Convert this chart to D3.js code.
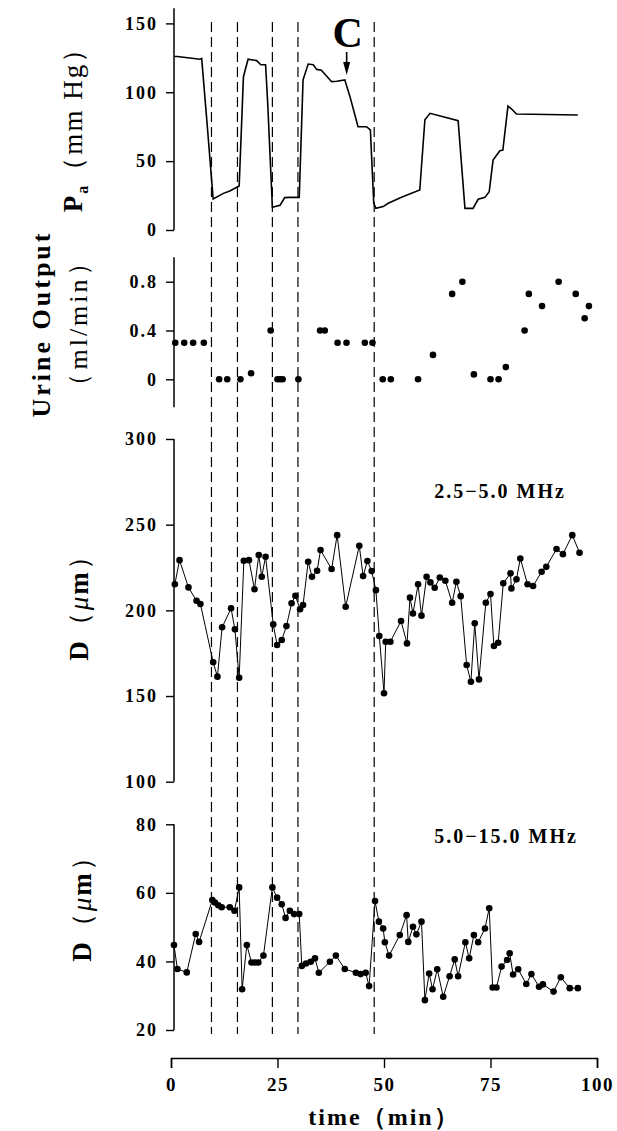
<!DOCTYPE html>
<html><head><meta charset="utf-8">
<script src="https://cdn.jsdelivr.net/npm/d3@7"></script>
<style>
html,body{margin:0;padding:0;background:#fff;}
text{font-family:"Liberation Serif","Times New Roman",serif;font-weight:bold;fill:#000;}
</style></head>
<body><svg id="chart" width="617" height="1131"></svg>
<script>
// ---- data ----
const pTime  = [0.8, 1.5, 6.8, 7.2, 8.4, 9.9, 12.3, 13.8, 16.0, 17.0, 17.4, 18.1, 20.1, 21.1, 22.2, 22.7, 23.8, 25.6, 26.7, 27.9, 30.1, 31.0, 32.2, 33.4, 34.2, 35.3, 37.7, 38.9, 40.8, 42.0, 43.9, 45.9, 46.8, 47.6, 48.1, 49.8, 51.0, 54.1, 58.4, 59.6, 60.8, 67.4, 69.0, 70.9, 72.1, 73.7, 74.7, 75.6, 77.2, 77.9, 79.1, 79.9, 81.1, 95.5];
const pValue = [126, 126, 124, 124.6, 80, 22.5, 26.6, 28.3, 32, 111, 116, 124, 123, 120, 120, 92, 16.5, 18, 23.5, 23.7, 23.7, 109, 120.5, 120, 116.6, 116, 107.7, 108, 109, 97, 75, 75, 72.6, 19.4, 15.7, 17, 19.4, 23.7, 29, 80, 84.7, 79.4, 15.7, 15.7, 22.3, 23.7, 27.8, 50.8, 57.6, 58, 90, 88, 84.2, 83.5];

const uTime  = [1.0, 3.1, 5.2, 7.7, 11.3, 13.2, 16.3, 18.8, 23.4, 25.0, 25.6, 26.2, 29.9, 35.0, 36.1, 39.1, 41.2, 45.5, 47.3, 49.7, 51.6, 58.0, 61.5, 66.0, 68.4, 71.1, 75.0, 76.9, 78.6, 83.0, 84.0, 87.1, 91.0, 95.0, 97.1, 98.1];
const uValue = [0.3, 0.3, 0.3, 0.3, 0, 0, 0, 0.05, 0.4, 0, 0, 0, 0, 0.4, 0.4, 0.3, 0.3, 0.3, 0.3, 0, 0, 0, 0.2, 0.7, 0.8, 0.04, 0, 0, 0.1, 0.4, 0.7, 0.6, 0.8, 0.7, 0.5, 0.6];

const d1Time  = [0.9, 2.0, 4.1, 6.0, 6.9, 9.9, 10.9, 12.0, 14.1, 15.0, 16.0, 17.1, 18.3, 19.6, 20.6, 21.3, 22.2, 24.0, 24.9, 26.0, 27.1, 28.3, 29.2, 30.3, 31.0, 32.2, 33.1, 34.3, 35.1, 37.7, 39.0, 41.0, 44.2, 45.1, 46.1, 47.1, 48.1, 48.9, 50.0, 50.4, 51.5, 54.0, 55.4, 56.1, 56.8, 58.0, 58.8, 60.0, 60.9, 61.9, 63.1, 64.4, 66.0, 67.0, 68.0, 69.4, 70.4, 71.3, 72.3, 73.9, 75.0, 75.8, 76.8, 78.0, 79.7, 79.9, 81.1, 82.0, 83.7, 85.0, 87.0, 88.1, 90.5, 92.0, 94.2, 95.9];
const d1Value = [215.2, 229.3, 213.4, 205.6, 203.7, 169.7, 161.3, 190.1, 201.2, 188.9, 160.7, 228.9, 229.3, 212.3, 232.3, 219.6, 231.3, 191.8, 179.8, 182.7, 190.8, 204.1, 208.5, 200.6, 203.1, 228.4, 219.6, 223.1, 235.2, 224.1, 243.9, 202.1, 237.7, 220, 228.8, 222.9, 211.8, 185, 151.6, 181.7, 181.7, 193.8, 180.7, 207.4, 198.2, 215.2, 196.9, 219.6, 216.3, 213.2, 219.2, 217.3, 204.4, 216.7, 208.3, 168.1, 158.3, 192.4, 159.7, 204.4, 209.5, 179.2, 181.1, 215.8, 221.6, 212.8, 218.1, 230.3, 215.2, 214.2, 222.5, 225.4, 235.8, 232.8, 243.9, 233.6];

const d2Time  = [0.7, 1.5, 3.7, 5.8, 6.6, 9.7, 10.3, 11.1, 11.9, 13.8, 14.9, 16.0, 16.7, 17.8, 18.9, 19.7, 20.5, 21.7, 23.8, 24.9, 26.0, 26.9, 27.9, 28.9, 30.1, 30.7, 31.7, 32.8, 33.8, 34.7, 37.3, 38.7, 40.8, 43.4, 44.5, 45.7, 46.5, 47.9, 48.8, 49.8, 50.2, 51.2, 53.7, 55.3, 55.7, 56.8, 57.6, 58.8, 59.6, 60.6, 61.4, 62.5, 63.9, 65.4, 66.6, 67.4, 69.1, 70.0, 71.1, 72.1, 73.7, 74.7, 75.5, 76.4, 77.6, 78.9, 79.5, 80.3, 81.5, 83.4, 84.6, 86.4, 87.3, 89.8, 91.5, 93.6, 95.5];
const d2Value = [44.8, 37.8, 36.8, 48, 45.7, 57.9, 57.2, 56.4, 55.8, 55.8, 54.8, 61.6, 31.9, 44.8, 39.7, 39.7, 39.7, 41.7, 61.6, 58.6, 56.7, 52.7, 54.8, 53.8, 53.8, 38.7, 39.4, 39.9, 40.9, 36.7, 39.9, 41.7, 37.8, 36.7, 36.3, 36.7, 32.8, 57.6, 51.6, 49.6, 45.6, 41.7, 47.7, 53.5, 45.7, 50.1, 47.9, 51.6, 28.7, 36.5, 31.9, 37.7, 29.7, 35.7, 40.6, 35.7, 45.6, 40.9, 47.7, 45.6, 49.6, 55.5, 32.4, 32.4, 38.5, 40.4, 42.4, 36.2, 37.7, 33.4, 36.3, 32.6, 33.3, 31.2, 35.4, 32.2, 32.2];

const eventTimes = [9.5, 15.6, 23.8, 29.8, 47.7];
const markerTime = 41;
const xTicks = [0, 25, 50, 75, 100];
const pTicks = [0, 50, 100, 150];
const uTicks = [0, 0.4, 0.8];
const d1Ticks = [100, 150, 200, 250, 300];
const d2Ticks = [20, 40, 60, 80];

// ---- drawing ----
const svg = d3.select("#chart");
svg.append("rect").attr("width", 617).attr("height", 1131).attr("fill", "#fff");

const x = d3.scaleLinear([0, 100], [171, 597]);
const yP = d3.scaleLinear([0, 150], [230, 23.4]);
const yU = d3.scaleLinear([0, 0.8], [379.3, 281.7]);
const yD1 = d3.scaleLinear([100, 300], [781.7, 439]);
const yD2 = d3.scaleLinear([20, 80], [1030, 824.3]);
const axisX = 174;

// event dashed lines
svg.append("g").selectAll("line").data(eventTimes).join("line")
  .attr("x1", d => x(d)).attr("x2", d => x(d))
  .attr("y1", 22).attr("y2", 1034)
  .attr("stroke", "#000").attr("stroke-width", 1.2)
  .attr("stroke-dasharray", "10,5");

function yAxis(scale, ticks, fmt, lo, hi) {
  const g = svg.append("g").attr("transform", `translate(${axisX},0)`);
  g.call(d3.axisLeft(scale).tickValues(ticks).tickFormat(fmt).tickSize(8).tickPadding(8).tickSizeOuter(0));
  g.select(".domain").remove();
  g.selectAll(".tick line").attr("stroke", "#000").attr("stroke-width", 1.4);
  g.selectAll(".tick text").attr("font-size", 18).attr("font-family", "Liberation Serif")
    .attr("font-weight", "bold").attr("letter-spacing", "2px").attr("fill", "#000");
  g.append("line").attr("x1", 0).attr("x2", 0).attr("y1", scale(lo)).attr("y2", scale(hi))
    .attr("stroke", "#000").attr("stroke-width", 1.5);
}
yAxis(yP, pTicks, d3.format("d"), 0, 161);
yAxis(yU, uTicks, d => d === 0 ? "0" : d3.format(".1f")(d), -0.23, 1.0);
yAxis(yD1, d1Ticks, d3.format("d"), 100, 300);
yAxis(yD2, d2Ticks, d3.format("d"), 20, 80);

// x axis
const gx = svg.append("g").attr("transform", "translate(0,1058)");
gx.call(d3.axisBottom(x).tickValues(xTicks).tickSize(10).tickPadding(10).tickFormat(d3.format("d")));
gx.select(".domain").attr("stroke", "#000").attr("stroke-width", 1.5);
gx.selectAll(".tick line").attr("stroke", "#000").attr("stroke-width", 1.4);
gx.selectAll(".tick text").attr("font-size", 19).attr("font-family", "Liberation Serif")
  .attr("font-weight", "bold").attr("letter-spacing", "1.5px").attr("fill", "#000");

// Pa line
const pData = pTime.map((t, i) => [t, pValue[i]]);
svg.append("path").datum(pData)
  .attr("d", d3.line().x(d => x(d[0])).y(d => yP(d[1])))
  .attr("fill", "none").attr("stroke", "#000").attr("stroke-width", 1.6);

// urine dots
const uData = uTime.map((t, i) => [t, uValue[i]]);
svg.append("g").selectAll("circle").data(uData).join("circle")
  .attr("cx", d => x(d[0])).attr("cy", d => yU(d[1])).attr("r", 3.3).attr("fill", "#000");

function dSeries(times, vals, yS) {
  const data = times.map((t, i) => [t, vals[i]]);
  svg.append("path").datum(data)
    .attr("d", d3.line().x(d => x(d[0])).y(d => yS(d[1])))
    .attr("fill", "none").attr("stroke", "#000").attr("stroke-width", 1);
  svg.append("g").selectAll("circle").data(data).join("circle")
    .attr("cx", d => x(d[0])).attr("cy", d => yS(d[1])).attr("r", 3.3).attr("fill", "#000");
}
dSeries(d1Time, d1Value, yD1);
dSeries(d2Time, d2Value, yD2);

// annotations
svg.append("text").attr("x", x(markerTime) + 2).attr("y", 47).attr("text-anchor", "middle")
  .attr("font-size", 42).text("C");
svg.append("line").attr("x1", x(markerTime) + 1).attr("x2", x(markerTime) + 1)
  .attr("y1", 52).attr("y2", 64).attr("stroke", "#000").attr("stroke-width", 1.6);
svg.append("path")
  .attr("d", `M${x(markerTime) + 1 - 3.5},62 L${x(markerTime) + 1 + 3.5},62 L${x(markerTime) + 1},75 Z`)
  .attr("fill", "#000");

svg.append("text").attr("x", 500).attr("y", 498).attr("text-anchor", "middle")
  .attr("font-size", 20).attr("letter-spacing", "2px").text("2.5\u22125.0 MHz");
svg.append("text").attr("x", 506).attr("y", 843).attr("text-anchor", "middle")
  .attr("font-size", 20).attr("letter-spacing", "2px").text("5.0\u221215.0 MHz");

// axis titles (rotated)
function vlabel(cx, cy, size, ls) {
  return svg.append("text").attr("transform", `translate(${cx},${cy}) rotate(-90)`)
    .attr("text-anchor", "middle").attr("font-size", size).attr("letter-spacing", ls + "px");
}
const pl = vlabel(82, 123, 27, 2);
pl.append("tspan").text("P");
pl.append("tspan").attr("font-size", 16).attr("dy", 6).text("a");
pl.append("tspan").attr("dy", -6).attr("font-weight", "normal").text("\uFF08mm Hg\uFF09");

vlabel(50, 324, 26, 3).text("Urine Output");
vlabel(87, 323, 26, 3).append("tspan").attr("font-weight", "normal").text("\uFF08ml/min\uFF09");

function dlabel(cx, cy) {
  const t = vlabel(cx, cy, 27, 2);
  t.append("tspan").text("D");
  t.append("tspan").attr("font-weight", "normal").text("\uFF08");
  t.append("tspan").attr("font-style", "italic").attr("font-weight", "normal").text("\u03BC");
  t.append("tspan").text("m");
  t.append("tspan").attr("font-weight", "normal").text("\uFF09");
}
dlabel(88, 601);
dlabel(91, 902);

svg.append("text").attr("x", x(50)).attr("y", 1125).attr("text-anchor", "middle")
  .attr("font-size", 24).attr("letter-spacing", "2px").text("time\uFF08min\uFF09");
</script></body></html>
